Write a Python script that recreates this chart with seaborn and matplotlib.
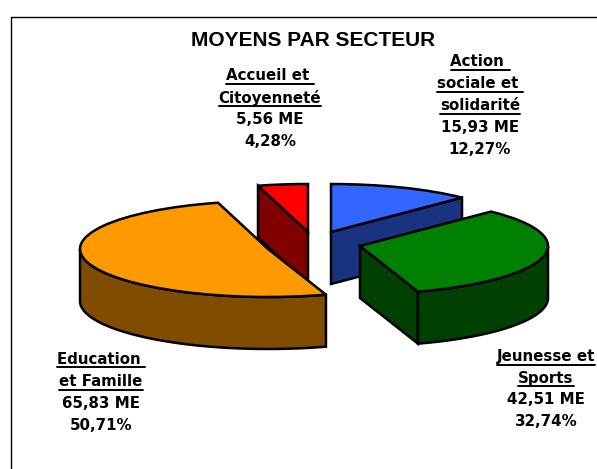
import numpy as np
import seaborn as sns
import matplotlib
matplotlib.use("Agg")
import matplotlib.pyplot as plt

# donnees (millions, part en %)
secteurs = ["Action sociale et solidarité", "Jeunesse et Sports",
            "Education et Famille", "Accueil et Citoyenneté"]
montants = [15.93, 42.51, 65.83, 5.56]

lignes_titre = [["Action ", "sociale et ", "solidarité"],
                ["Jeunesse et", "Sports"],
                ["Education ", "et Famille"],
                ["Accueil et ", "Citoyenneté"]]
lignes_val = [["15,93 ME", "12,27%"],
              ["42,51 ME", "32,74%"],
              ["65,83 ME", "50,71%"],
              ["5,56 ME", "4,28%"]]

couleurs = ["#3366FF", "#008000", "#FF9900", "#FF0000"]
sombres = ["#1A3380", "#004000", "#804D00", "#800000"]

# mise en page, en pixels de l'image
W, H = 597, 469
RX, RY, EP = 188, 48, 52
centres = [(331, 232), (360, 246), (268, 249), (308, 232)]
ordre = [3, 0, 2, 1]  # du fond vers l'avant
pos_txt = [(480, [62, 84, 106, 128, 150]),
           (546, [357, 378, 400, 422]),
           (101, [359, 382, 404, 426]),
           (270, [76, 98, 120, 142])]

sns.set_theme(style="white")
plt.rcParams["font.family"] = ["DejaVu Sans"]

fig = plt.figure(figsize=(W / 100, H / 100), dpi=100, facecolor="white")
ax = fig.add_axes([0, 0, 1, 1])
k = RX / RY  # ecrasement vertical


def yd(py):
    return (H - py) * k


parts = np.array(montants) / sum(montants)
fin = 90 - 360 * np.cumsum(parts)
debut = fin + 360 * parts
trait = dict(edgecolor="black", linewidth=1.8, joinstyle="miter")

for i in ordre:
    cx, cy = centres[i][0], yd(centres[i][1])
    ep = EP * k
    t1, t2 = fin[i], debut[i]

    # faces radiales visibles
    for a, visible in [(t1, np.sin(np.radians(t1 - 90)) < -1e-6),
                       (t2, np.cos(np.radians(t2)) < -1e-6)]:
        if visible:
            ex, ey = cx + RX * np.cos(np.radians(a)), cy + RX * np.sin(np.radians(a))
            ax.fill([cx, ex, ex, cx], [cy, ey, ey - ep, cy - ep],
                    facecolor=sombres[i], **trait)

    # paroi exterieure
    th = np.radians(np.linspace(t1, t2, 200))
    th = th[np.sin(th) <= 0]
    if len(th) > 1:
        xs = cx + RX * np.cos(th)
        ys = cy + RX * np.sin(th)
        ax.fill(np.r_[xs, xs[::-1]], np.r_[ys, ys[::-1] - ep],
                facecolor=sombres[i], **trait)

    # face du dessus
    ax.pie([parts[i]], normalize=False, startangle=t2, counterclock=False,
           center=(cx, cy), radius=RX, colors=[couleurs[i]], wedgeprops=trait)

ax.set_aspect("auto")
ax.set_xlim(0, W)
ax.set_ylim(0, H * k)
ax.axis("off")

# textes et cadre dans un repere en pixels
ov = fig.add_axes([0, 0, 1, 1], facecolor="none")
ov.set_xlim(0, W)
ov.set_ylim(H, 0)
ov.axis("off")
ov.plot([11, 11, W + 5], [H + 5, 17, 17], color="black", lw=1.0)

ov.text(313, 40, "MOYENS PAR SECTEUR", ha="center", va="center",
        fontsize=15, fontweight="bold", family="Liberation Sans", color="black")

rend = fig.canvas.get_renderer()
for i in range(len(secteurs)):
    x, ys = pos_txt[i]
    n = len(lignes_titre[i])
    for j, s in enumerate(lignes_titre[i] + lignes_val[i]):
        t = ov.text(x, ys[j], s, ha="center", va="center", fontsize=10.8,
                    fontweight="bold", color="black", clip_on=False)
        if j < n:
            b = t.get_window_extent(rend)
            ov.plot([b.x0, b.x1], [ys[j] + 8.5, ys[j] + 8.5], color="black", lw=1.4)

fig.savefig("out.png", dpi=100)
